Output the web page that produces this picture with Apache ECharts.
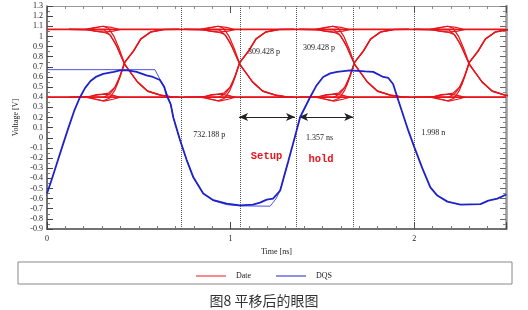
<!DOCTYPE html>
<html><head><meta charset="utf-8">
<script src="https://cdn.jsdelivr.net/npm/echarts@6/dist/echarts.min.js"></script>
<style>html,body{margin:0;padding:0;background:#fff;}#c{width:528px;height:310px;}</style>
</head><body><div id="c"></div>
<script>
// ---- data ----
// crossing times (ns) of the Date eye
const crossings = [0.42, 1.047, 1.672, 2.297];
// Date levels
const dateHigh = [1.073, 1.067];
const dateLow = [0.404, 0.398];
// transition shapes relative to crossing time [dt (ns), V]
const riseA = [[-0.30,0.40],[-0.11,0.40],[-0.074,0.44],[-0.037,0.53],[0,0.735],[0.053,0.86],[0.091,0.975],[0.146,1.045],[0.217,1.068],[0.30,1.07]];
const riseB = [[-0.30,0.40],[-0.19,0.40],[-0.15,0.38],[-0.115,0.365],[-0.08,0.39],[-0.05,0.47],[-0.02,0.61],[0.004,0.745],[0.053,0.865],[0.091,0.978],[0.146,1.046],[0.217,1.069],[0.30,1.07]];
const riseC = [[-0.30,0.40],[-0.19,0.405],[-0.15,0.425],[-0.115,0.43],[-0.085,0.44],[-0.05,0.50],[-0.02,0.62],[0.005,0.75],[0.053,0.858],[0.091,0.972],[0.146,1.043],[0.217,1.067],[0.30,1.07]];
const fallA = [[-0.30,1.07],[-0.11,1.065],[-0.074,1.01],[-0.037,0.89],[0,0.735],[0.073,0.55],[0.128,0.46],[0.2,0.42],[0.26,0.403],[0.30,0.40]];
const fallB = [[-0.30,1.07],[-0.19,1.07],[-0.15,1.088],[-0.115,1.10],[-0.085,1.08],[-0.055,1.0],[-0.025,0.87],[0.004,0.725],[0.073,0.548],[0.128,0.458],[0.2,0.418],[0.26,0.402],[0.30,0.40]];
const fallC = [[-0.30,1.07],[-0.19,1.065],[-0.15,1.05],[-0.115,1.043],[-0.08,1.02],[-0.05,0.94],[-0.02,0.82],[0.006,0.715],[0.073,0.552],[0.128,0.462],[0.2,0.421],[0.26,0.403],[0.30,0.40]];
const hiBump = [[-0.21,1.07],[-0.17,1.085],[-0.115,1.10],[-0.07,1.09],[-0.03,1.07]];
const hiDip = [[-0.21,1.068],[-0.16,1.052],[-0.11,1.043],[-0.06,1.052],[-0.02,1.068]];
const loBump = [[-0.21,0.40],[-0.16,0.418],[-0.11,0.43],[-0.06,0.418],[-0.02,0.40]];
const loDip = [[-0.21,0.40],[-0.16,0.38],[-0.11,0.362],[-0.06,0.38],[-0.02,0.40]];
// DQS main trace [t (ns), V]
const dqsMain = [[0,-0.55],[0.028,-0.40],[0.058,-0.23],[0.088,-0.06],[0.117,0.10],[0.147,0.26],[0.177,0.39],[0.207,0.49],[0.237,0.56],[0.266,0.60],[0.306,0.63],[0.364,0.65],[0.397,0.665],[0.44,0.665],[0.488,0.65],[0.542,0.615],[0.577,0.60],[0.615,0.57],[0.639,0.50],[0.651,0.42],[0.674,0.33],[0.688,0.20],[0.724,-0.02],[0.761,-0.22],[0.797,-0.39],[0.851,-0.55],[0.906,-0.616],[0.979,-0.65],[1.051,-0.666],[1.122,-0.66],[1.16,-0.64],[1.197,-0.61],[1.231,-0.60],[1.27,-0.52],[1.313,-0.24],[1.349,0.0],[1.379,0.205],[1.433,0.40],[1.466,0.51],[1.504,0.60],[1.542,0.635],[1.58,0.65],[1.651,0.665],[1.733,0.655],[1.777,0.65],[1.831,0.60],[1.859,0.59],[1.885,0.53],[1.908,0.40],[1.968,0.07],[2.0,-0.09],[2.044,-0.30],[2.088,-0.49],[2.126,-0.57],[2.181,-0.63],[2.252,-0.66],[2.361,-0.655],[2.404,-0.62],[2.453,-0.60],[2.502,-0.56]];
// DQS second (thin) trace
const dqsThin = [[0,0.672],[0.588,0.672],[0.648,0.46],[0.674,0.33],[0.688,0.20],[0.724,-0.02],[0.761,-0.22],[0.797,-0.39],[0.851,-0.55],[0.906,-0.62],[0.979,-0.66],[1.051,-0.672],[1.215,-0.675],[1.248,-0.60],[1.27,-0.52],[1.313,-0.24]];
// annotations
const cursorTimes = [0.732, 1.048, 1.357, 1.666, 1.998];
const setupSpan = [1.046, 1.351];
const holdSpan = [1.373, 1.668];
const arrowLevel = 0.205;
const noteTexts = ['309.428 p', '309.428 p', '732.188 p', '1.357 ns', '1.998 n'];
const notePos = [[1.095, 0.843], [1.395, 0.883], [0.797, 0.025], [1.41, -0.005], [2.039, 0.045]];
const markTexts = ['Setup', 'hold'];
const markPos = [[1.11, -0.18], [1.424, -0.21]];
const yMin = -0.9, yMax = 1.3, yStep = 0.1;
const xMin = 0, xMax = 2.5, xStep = 1;
// ---------------------------------

const serif = '"Liberation Serif","Times New Roman",serif';
const RED = '#e8141b', BLUE = '#1e22c8';
const series = [];
function redSeries(data){
  series.push({name:'Date', type:'line', data:data, symbol:'none', showSymbol:false,
    lineStyle:{color:RED, width:1.2}, itemStyle:{color:RED}, z:2, silent:true, animation:false});
}
dateHigh.forEach(v => redSeries([[xMin, v],[xMax, v]]));
dateLow.forEach(v => redSeries([[xMin, v],[xMax, v]]));
const shapes = [riseA, riseB, riseC, fallA, fallB, fallC, hiBump, hiDip, loBump, loDip];
crossings.forEach(c => shapes.forEach(s => redSeries(s.map(p => [c + p[0], p[1]]))));

const markLineData = cursorTimes.map(t => ({xAxis:t, lineStyle:{color:'#555', type:'dotted', width:1}}));
[setupSpan, holdSpan].forEach(sp => markLineData.push([
  {coord:[sp[0], arrowLevel], symbol:'arrow', symbolSize:[6,9], lineStyle:{color:'#222', type:'solid', width:1}},
  {coord:[sp[1], arrowLevel], symbol:'arrow', symbolSize:[6,9]}
]));
const markPointData = noteTexts.map((t,i) => ({coord:notePos[i], value:t,
  label:{formatter:t, color:'#222', fontSize:8, fontFamily:serif}}));
markTexts.forEach((t,i) => markPointData.push({coord:markPos[i], value:t,
  label:{formatter:t, color:'#e8141b', fontSize:10.5, fontWeight:'bold', fontFamily:'"Liberation Mono",monospace'}}));

series.push({name:'DQS', type:'line', data:dqsThin, symbol:'none', showSymbol:false,
  lineStyle:{color:'#3a3ee0', width:0.9}, itemStyle:{color:BLUE}, z:5, silent:true, animation:false});
series.push({name:'DQS', type:'line', data:dqsMain, symbol:'none', showSymbol:false,
  lineStyle:{color:BLUE, width:1.8}, itemStyle:{color:BLUE}, z:6, silent:true, animation:false,
  markLine:{silent:true, animation:false, label:{show:false}, data:markLineData, symbol:['none','none']},
  markPoint:{silent:true, animation:false, symbol:'circle', symbolSize:0,
    label:{show:true, position:'right', distance:0}, data:markPointData}
});

const axisFont = {fontSize:8, color:'#222', fontFamily:serif};
const chart = echarts.init(document.getElementById('c'), null, {renderer:'canvas'});
chart.setOption({
  animation:false,
  backgroundColor:'#fff',
  grid:{left:47, right:22, top:6, bottom:81},
  xAxis:[
    {type:'value', min:xMin, max:xMax, interval:xStep, position:'bottom',
     name:'Time [ns]', nameLocation:'middle', nameGap:19, nameTextStyle:axisFont,
     axisLine:{onZero:false, lineStyle:{color:'#444', width:1.5}},
     axisTick:{inside:true, length:7, lineStyle:{color:'#444'}},
     minorTick:{show:true, splitNumber:10, length:3, lineStyle:{color:'#777'}},
     axisLabel:Object.assign({margin:6, showMaxLabel:false}, axisFont),
     splitLine:{show:false}},
    {type:'value', min:xMin, max:xMax, interval:xStep, position:'top',
     axisLine:{show:true, onZero:false, lineStyle:{color:'#999', width:1}},
     axisTick:{show:true, inside:true, length:7, lineStyle:{color:'#555'}},
     minorTick:{show:true, splitNumber:10, length:3, lineStyle:{color:'#888'}},
     axisLabel:{show:false}, splitLine:{show:false}}
  ],
  yAxis:[
    {type:'value', min:yMin, max:yMax, interval:yStep, position:'left',
     name:'Voltage [V]', nameLocation:'middle', nameGap:19, nameTextStyle:axisFont,
     axisLine:{show:true, onZero:false, lineStyle:{color:'#444', width:1.5}},
     axisTick:{show:true, inside:true, length:6, lineStyle:{color:'#444'}},
     minorTick:{show:true, splitNumber:2, length:3, lineStyle:{color:'#777'}},
     axisLabel:Object.assign({margin:4, formatter:v => String(Math.round(v*10)/10)}, axisFont),
     splitLine:{show:false}},
    {type:'value', min:yMin, max:yMax, interval:yStep, position:'right',
     axisLine:{show:true, onZero:false, lineStyle:{color:'#999', width:2.5}},
     axisTick:{show:true, inside:true, length:6, lineStyle:{color:'#666'}},
     minorTick:{show:true, splitNumber:2, length:3, lineStyle:{color:'#888'}},
     axisLabel:{show:false}, splitLine:{show:false}}
  ],
  legend:{data:['Date','DQS'], left:'center', top:267, icon:'rect', itemWidth:30, itemHeight:1, itemGap:25,
    textStyle:{fontSize:8, color:'#222', fontFamily:serif, padding:[0,0,0,5]},
    selectedMode:false, z:10},
  graphic:[
    {type:'rect', shape:{x:18, y:262, width:494, height:22}, style:{fill:'#fff', stroke:'#888', lineWidth:1}, z:-1, silent:true},
    {type:'text', x:264, y:301, style:{text:'图8 平移后的眼图', font:'14px "Noto Sans CJK SC"', fill:'#333', textAlign:'center', textVerticalAlign:'middle'}, silent:true}
  ],
  series:series
});
</script></body></html>
